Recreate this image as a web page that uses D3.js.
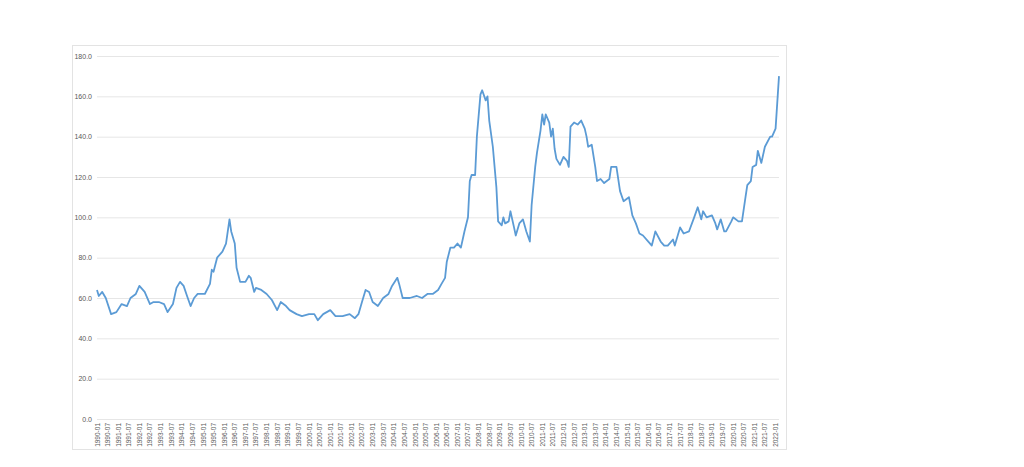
<!DOCTYPE html>
<html><head><meta charset="utf-8">
<script src="https://cdn.jsdelivr.net/npm/d3@7"></script>
<style>body{margin:0;background:#fff;}svg{display:block;font-family:"Liberation Sans",Arial,sans-serif;}</style>
</head><body>
<svg id="c" width="1024" height="467"></svg>
<script>
const dates = ["1990-01","1990-02","1990-04","1990-06","1990-09","1990-12","1991-03","1991-06","1991-08","1991-11","1992-01","1992-04","1992-07","1992-09","1992-12","1993-03","1993-05","1993-08","1993-10","1993-12","1994-02","1994-04","1994-06","1994-08","1994-10","1995-02","1995-05","1995-06","1995-07","1995-09","1995-12","1996-02","1996-04","1996-05","1996-07","1996-08","1996-10","1997-01","1997-03","1997-04","1997-06","1997-07","1997-10","1998-01","1998-04","1998-07","1998-09","1998-12","1999-02","1999-04","1999-06","1999-09","2000-01","2000-04","2000-06","2000-09","2001-01","2001-04","2001-08","2001-12","2002-03","2002-05","2002-07","2002-09","2002-11","2003-01","2003-04","2003-07","2003-10","2003-12","2004-03","2004-04","2004-06","2004-10","2005-02","2005-05","2005-08","2005-11","2006-02","2006-04","2006-06","2006-07","2006-09","2006-11","2007-01","2007-03","2007-05","2007-07","2007-08","2007-09","2007-11","2007-12","2008-02","2008-03","2008-05","2008-06","2008-07","2008-09","2008-11","2008-12","2009-02","2009-03","2009-04","2009-06","2009-07","2009-09","2009-10","2009-12","2010-02","2010-04","2010-06","2010-07","2010-09","2010-10","2010-12","2011-01","2011-02","2011-03","2011-05","2011-06","2011-07","2011-08","2011-09","2011-11","2012-01","2012-03","2012-04","2012-05","2012-07","2012-09","2012-11","2013-01","2013-02","2013-03","2013-05","2013-07","2013-08","2013-10","2013-12","2014-03","2014-04","2014-07","2014-09","2014-11","2015-02","2015-04","2015-06","2015-08","2015-10","2016-01","2016-03","2016-05","2016-08","2016-10","2016-12","2017-03","2017-04","2017-07","2017-09","2017-12","2018-03","2018-05","2018-07","2018-08","2018-10","2019-01","2019-03","2019-04","2019-06","2019-08","2019-09","2019-12","2020-01","2020-04","2020-06","2020-08","2020-09","2020-11","2020-12","2021-02","2021-03","2021-05","2021-07","2021-10","2021-11","2022-01","2022-03"];
const values = [64,61,63,60,52,53,57,56,60,62,66,63,57,58,58,57,53,57,65,68,66,61,56,60,62,62,67,74,73,80,83,87,99,93,87,75,68,68,71,70,63,65,64,62,59,54,58,56,54,53,52,51,52,52,49,52,54,51,51,52,50,52,58,64,63,58,56,60,62,66,70,67,60,60,61,60,62,62,64,67,70,78,85,85,87,85,93,100,118,121,121,140,161,163,158,160,148,135,115,98,96,100,97,98,103,95,91,97,99,93,88,106,125,132,143,151,146,151,147,140,144,134,129,126,130,128,125,145,147,146,148,144,140,135,136,125,118,119,117,119,125,125,113,108,110,101,97,92,91,88,86,93,88,86,86,89,86,95,92,93,100,105,99,103,100,101,97,94,99,93,93,98,100,98,98,110,116,118,125,126,133,127,135,140,140,144,170];
const yTicks = [0,20,40,60,80,100,120,140,160,180];

const parse = d3.timeParse("%Y-%m");
const data = dates.map((d,i)=>({d:parse(d),v:values[i]}));
const svg = d3.select("#c");
svg.append("rect").attr("x",72.5).attr("y",45.5).attr("width",714).attr("height",404).attr("fill","#fff").attr("stroke","#e3e3e3");
const x = d3.scaleTime().domain([parse("1990-01"),parse("2022-03")]).range([97,779]);
const y = d3.scaleLinear().domain([0,180]).range([419,56]);
svg.append("g").selectAll("line").data(yTicks).join("line")
  .attr("x1",97).attr("x2",779).attr("y1",d=>y(d)+0.5).attr("y2",d=>y(d)+0.5)
  .attr("stroke","#e6e6e6").attr("stroke-width",1);
svg.append("g").selectAll("text").data(yTicks).join("text")
  .attr("x",92).attr("y",d=>y(d)+2.5).attr("text-anchor","end")
  .attr("font-size",7).attr("fill","#595959").text(d=>d.toFixed(1));
const xt = d3.timeMonth.every(6).range(parse("1990-01"),parse("2022-02"));
svg.append("g").selectAll("text").data(xt).join("text")
  .attr("transform",d=>`translate(${x(d)+2.5},423) rotate(-90)`)
  .attr("text-anchor","end").attr("font-size",6.5).attr("fill","#595959")
  .text(d3.timeFormat("%Y-%m"));
svg.append("path").datum(data).attr("fill","none").attr("stroke","#5b9bd5").attr("stroke-width",1.8)
  .attr("stroke-linejoin","round")
  .attr("d",d3.line().x(d=>x(d.d)).y(d=>y(d.v)));
</script>
</body></html>
